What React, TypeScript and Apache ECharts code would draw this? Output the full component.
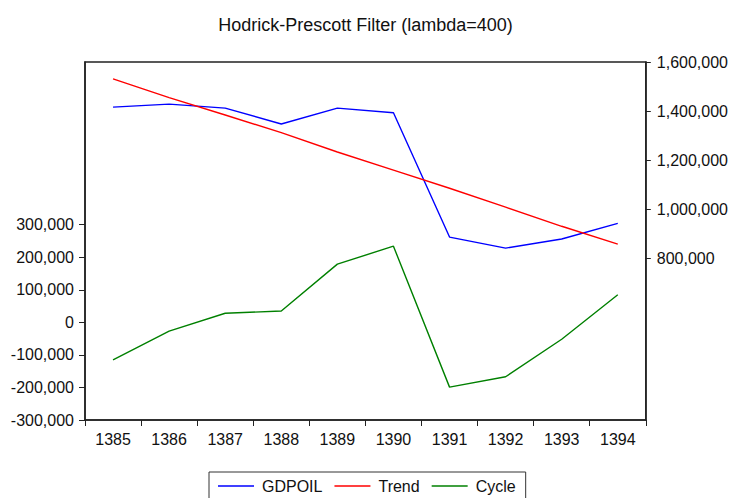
import React, { useEffect, useRef } from "react";
import * as echarts from "echarts";

const years = ["1385", "1386", "1387", "1388", "1389", "1390", "1391", "1392", "1393", "1394"];
const gdpoil = [1416000, 1428000, 1412000, 1347000, 1412000, 1393000, 886000, 841000, 878000, 942000];
const trend = [1531000, 1455000, 1384000, 1312000, 1233000, 1159000, 1085000, 1008000, 930000, 857000];
const cycle = [-115000, -27000, 28000, 35000, 179000, 234000, -199000, -167000, -52000, 85000];
const leftTicks = [-300000, -200000, -100000, 0, 100000, 200000, 300000];
const rightTicks = [800000, 1000000, 1200000, 1400000, 1600000];

const FONT = "'Liberation Sans', Arial, sans-serif";
const fmt = (v: number) => v.toLocaleString("en-US");

export default function App() {
  const ref = useRef<HTMLDivElement>(null);
  useEffect(() => {
    if (!ref.current) return;
    const chart = echarts.init(ref.current, undefined, { renderer: "svg" });
    chart.setOption({
      animation: false,
      backgroundColor: "#ffffff",
      title: {
        text: "Hodrick-Prescott Filter (lambda=400)",
        left: "center",
        top: 11,
        textStyle: { fontFamily: FONT, fontSize: 18, fontWeight: "normal", color: "#111" },
      },
      legend: {
        left: 209,
        top: 472,
        padding: [6, 10, 6, 9],
        itemWidth: 36,
        itemHeight: 1.5,
        itemGap: 12,
        borderColor: "#333",
        borderWidth: 1,
        textStyle: { fontFamily: FONT, fontSize: 16, color: "#111", padding: [0, 0, 0, 3] },
        data: [
          { name: "GDPOIL", icon: "rect" },
          { name: "Trend", icon: "rect" },
          { name: "Cycle", icon: "rect" },
        ],
      },
      grid: {
        left: 85,
        right: 83,
        top: 62,
        bottom: 78,
        show: true,
        borderColor: "#222",
        borderWidth: 1.5,
        backgroundColor: "transparent",
      },
      xAxis: {
        type: "category",
        data: years,
        boundaryGap: true,
        axisLine: { show: true, onZero: false, lineStyle: { color: "#222", width: 1.5 } },
        axisTick: { show: true, length: 6, lineStyle: { color: "#222" } },
        axisLabel: { margin: 11, fontFamily: FONT, fontSize: 16, color: "#111" },
        splitLine: { show: false },
      },
      yAxis: [
        {
          type: "value",
          position: "left",
          min: -300000,
          max: 800000,
          axisLine: { show: true, lineStyle: { color: "#222", width: 1.5 } },
          axisTick: { show: true, length: 6, customValues: leftTicks, lineStyle: { color: "#222" } },
          axisLabel: {
            margin: 11,
            customValues: leftTicks,
            fontFamily: FONT,
            fontSize: 16,
            color: "#111",
            formatter: (v: number) => fmt(v),
          },
          splitLine: { show: false },
        },
        {
          type: "value",
          position: "right",
          min: 140000,
          max: 1600000,
          axisLine: { show: true, lineStyle: { color: "#222", width: 1.5 } },
          axisTick: { show: true, length: 5, customValues: rightTicks, lineStyle: { color: "#222" } },
          axisLabel: {
            margin: 11,
            customValues: rightTicks,
            fontFamily: FONT,
            fontSize: 16,
            color: "#111",
            formatter: (v: number) => fmt(v),
          },
          splitLine: { show: false },
        },
      ],
      series: [
        {
          name: "GDPOIL",
          type: "line",
          yAxisIndex: 1,
          data: gdpoil,
          symbol: "none",
          color: "#0000ff",
          lineStyle: { color: "#0000ff", width: 1.4 },
        },
        {
          name: "Trend",
          type: "line",
          yAxisIndex: 1,
          data: trend,
          symbol: "none",
          color: "#ff0000",
          lineStyle: { color: "#ff0000", width: 1.4 },
        },
        {
          name: "Cycle",
          type: "line",
          yAxisIndex: 0,
          data: cycle,
          symbol: "none",
          color: "#008000",
          lineStyle: { color: "#008000", width: 1.4 },
        },
      ],
    });
    return () => chart.dispose();
  }, []);
  return (
    <div
      ref={ref}
      style={{ position: "absolute", left: 0, top: 0, width: 731, height: 498 }}
    />
  );
}
